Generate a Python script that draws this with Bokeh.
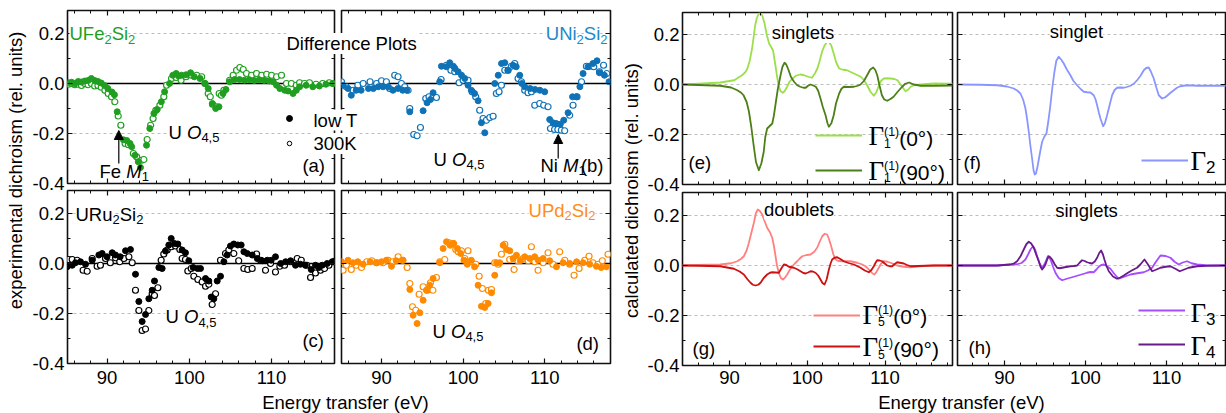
from bokeh.plotting import figure
from bokeh.models import (Range1d, LinearAxis, FixedTicker, Span, Label, Legend, LegendItem,
                          Arrow, NormalHead, PrintfTickFormatter, CustomJSTickFormatter)
from bokeh.layouts import row, column
from bokeh.embed import file_html
from bokeh.resources import INLINE
from bokeh.core.properties import value

# ---------------- tick values ----------------
X_MAJOR = [90, 100, 110]
X_MINOR = [84, 86, 88, 92, 94, 96, 98, 102, 104, 106, 108, 112, 114, 116, 118]
Y_MAJOR = [-0.4, -0.2, 0.0, 0.2]
Y_MINOR = [-0.3, -0.1, 0.1]

# ---------------- experimental data (energy eV, dichroism) ----------------
A_LOW = [(85.3,0.003),(85.7,0.005),(86.1,0.0),(86.5,0.008),(86.9,0.006),(87.3,0.01),(87.7,0.012),(88.1,0.02),(88.5,0.012),(88.9,0.008),(89.3,0.002),(89.7,-0.008),(90.1,-0.02),(90.6,-0.034),(90.9,-0.045),(91.24,-0.113),(92.0,-0.225),(92.4,-0.228),(92.8,-0.24),(93.0,-0.253),(93.4,-0.287),(93.8,-0.313),(94.07,-0.336),(94.8,-0.247),(95.2,-0.18),(95.7,-0.12),(96.1,-0.104),(96.6,-0.073),(97.0,-0.033),(97.6,0.0),(98.0,0.033),(98.4,0.04),(98.7,0.03),(99.05,0.033),(99.6,0.035),(100.15,0.043),(100.6,0.027),(101.3,0.02),(101.9,0.0),(102.3,-0.02),(102.8,-0.08),(103.2,-0.1),(103.6,-0.093),(104.1,-0.04),(104.45,-0.024),(104.9,0.007),(105.5,0.016),(106.1,0.016),(106.7,0.013),(107.3,0.015),(107.9,0.012),(108.5,0.015),(109.1,0.012),(109.7,0.01),(110.2,0.007),(110.6,-0.007),(111.0,-0.02),(111.6,-0.027),(112.0,-0.03),(112.6,-0.04),(113.0,-0.027),(113.4,-0.013),(114.2,-0.007),(115.0,-0.013),(115.8,-0.01),(116.6,-0.003),(117.4,0.0)]
A_RT = [(85.3,-0.003),(85.7,0.0),(86.1,-0.005),(86.5,-0.003),(86.9,-0.008),(87.3,0.0),(87.7,-0.005),(88.1,0.0),(88.5,-0.01),(88.9,-0.008),(89.3,-0.015),(89.74,-0.027),(90.14,-0.04),(90.55,-0.053),(90.95,-0.073),(91.36,-0.13),(91.68,-0.167),(92.2,-0.24),(92.6,-0.245),(93.2,-0.28),(93.6,-0.293),(94.2,-0.307),(94.48,-0.304),(94.88,-0.224),(95.3,-0.167),(95.6,-0.14),(95.93,-0.107),(96.42,-0.087),(96.9,-0.053),(97.23,-0.007),(97.84,0.02),(98.4,0.024),(99.0,0.013),(99.6,0.027),(100.27,0.033),(100.9,0.033),(101.5,0.027),(101.9,0.0),(102.3,-0.04),(102.55,-0.053),(102.82,-0.083),(103.3,-0.093),(103.63,-0.04),(103.9,-0.047),(104.2,-0.027),(104.9,0.013),(105.33,0.033),(105.74,0.053),(106.14,0.064),(106.55,0.056),(106.95,0.04),(107.56,0.033),(108.17,0.04),(108.8,0.033),(109.4,0.037),(110.0,0.033),(110.6,0.027),(111.2,0.033),(111.8,0.0),(112.4,0.0),(113.0,-0.007),(113.4,0.003),(114.0,0.0),(114.6,0.003),(115.4,-0.003),(116.2,0.0),(117.0,0.003),(117.5,0.0)]

B_LOW = [(85.3,-0.007),(85.9,-0.02),(86.3,-0.047),(86.9,-0.027),(87.5,-0.027),(88.4,-0.02),(89.0,-0.02),(89.6,-0.013),(90.2,-0.013),(90.8,-0.013),(91.4,-0.027),(92.0,-0.02),(92.6,-0.027),(93.1,-0.027),(93.46,-0.113),(95.1,-0.109),(95.58,-0.077),(96.0,-0.064),(96.32,-0.037),(97.13,0.007),(97.34,0.069),(97.95,0.067),(98.36,0.083),(98.8,0.069),(99.0,0.06),(99.38,0.047),(99.8,0.033),(100.2,0.02),(100.6,-0.007),(101.0,-0.027),(101.4,-0.04),(101.83,-0.069),(102.24,-0.157),(102.65,-0.197),(103.87,0.0),(104.3,0.033),(104.7,0.08),(105.1,0.083),(105.5,0.053),(106.1,0.073),(106.5,0.067),(106.93,0.033),(107.2,0.0),(107.54,-0.013),(108.2,-0.02),(108.8,-0.024),(109.4,-0.027),(109.99,-0.033),(110.6,-0.144),(111.0,-0.157),(111.4,-0.16),(111.9,-0.163),(112.32,-0.147),(112.85,-0.117),(113.4,-0.053),(113.87,-0.053),(114.3,-0.013),(114.69,0.04),(115.3,0.067),(115.9,0.08),(116.4,0.091),(116.7,0.043),(117.3,0.033),(117.87,0.007)]
B_RT = [(85.1,0.007),(85.7,-0.013),(86.5,-0.027),(87.1,-0.007),(87.75,0.0),(88.6,0.007),(89.4,0.0),(90.0,0.011),(90.6,0.007),(91.0,-0.02),(91.62,0.033),(92.03,0.027),(92.44,0.0),(92.85,-0.013),(93.26,-0.027),(93.46,-0.1),(93.95,-0.204),(94.36,-0.209),(94.77,-0.176),(95.42,-0.06),(95.82,-0.053),(96.32,-0.051),(96.73,-0.056),(97.3,0.016),(97.95,0.073),(98.5,0.053),(98.97,0.047),(99.5,0.003),(100.0,0.013),(100.6,0.013),(101.1,-0.033),(101.54,-0.053),(102.03,-0.107),(102.44,-0.14),(102.85,-0.147),(103.26,-0.136),(103.67,-0.131),(104.07,-0.04),(104.4,-0.033),(104.69,-0.007),(105.1,0.053),(105.5,0.053),(105.9,0.069),(106.32,0.08),(106.73,0.02),(107.14,0.007),(107.54,-0.027),(107.95,-0.037),(108.36,-0.033),(108.77,-0.087),(109.38,-0.08),(109.87,-0.087),(110.4,-0.093),(110.7,-0.18),(111.2,-0.184),(111.6,-0.184),(112.03,-0.187),(112.44,-0.189),(113.05,-0.127),(113.46,-0.087),(113.95,-0.053),(114.5,0.007),(115.1,0.069),(115.5,0.069),(116.0,0.067),(116.7,0.047),(117.2,0.073),(117.6,0.04)]

C_LOW = [(85.16,-0.013),(85.77,-0.007),(86.17,0.003),(86.78,0.007),(87.39,-0.003),(88.2,0.013),(89.01,0.034),(89.41,0.04),(90.0,0.027),(90.63,0.043),(91.03,0.034),(91.6,0.027),(92.25,0.051),(92.85,0.056),(93.46,-0.043),(93.87,-0.152),(94.27,-0.232),(94.68,-0.204),(95.08,-0.141),(95.49,-0.107),(95.77,-0.07),(96.3,-0.016),(96.7,-0.02),(97.1,0.05),(97.51,0.074),(97.8,0.1),(98.2,0.08),(98.61,0.078),(99.13,0.054),(99.53,0.043),(99.94,0.011),(100.47,-0.016),(101.0,-0.02),(101.36,-0.02),(101.97,-0.06),(102.37,-0.07),(102.66,-0.134),(102.98,-0.141),(103.39,-0.07),(103.79,-0.051),(104.2,0.007),(104.6,0.034),(105.0,0.07),(105.41,0.078),(105.9,0.074),(106.3,0.074),(106.63,0.047),(107.04,0.04),(107.64,0.034),(108.25,0.02),(108.86,0.011),(109.47,0.013),(109.95,0.013),(110.47,0.027),(111.1,0.0),(111.7,0.007),(112.3,0.011),(112.9,-0.007),(113.5,-0.003),(114.1,-0.007),(114.81,-0.024),(115.33,-0.007),(115.74,-0.016),(116.15,-0.007),(116.75,0.0),(117.36,0.007),(117.77,0.011)]
C_RT = [(85.36,0.016),(85.77,0.016),(86.38,0.013),(87.1,-0.027),(87.59,-0.031),(88.2,0.02),(88.8,-0.011),(89.2,-0.007),(89.82,0.02),(90.4,0.003),(91.03,0.023),(91.55,0.007),(92.05,0.02),(92.66,0.027),(93.06,0.003),(93.46,-0.107),(93.87,-0.188),(94.27,-0.268),(94.68,-0.262),(95.08,-0.188),(95.49,-0.121),(95.77,-0.128),(96.18,-0.097),(96.58,0.013),(96.9,0.038),(97.31,0.054),(97.8,0.067),(98.32,0.07),(98.85,0.056),(99.13,0.02),(99.53,0.016),(99.82,-0.03),(100.23,-0.02),(100.55,-0.051),(101.04,-0.064),(101.56,-0.074),(101.97,-0.091),(102.37,-0.083),(102.78,-0.164),(103.19,-0.121),(103.79,0.013),(104.4,0.04),(104.8,0.054),(105.41,0.04),(106.0,0.011),(106.63,-0.02),(107.1,-0.024),(107.64,-0.02),(108.17,0.038),(108.66,0.013),(109.26,-0.027),(109.87,0.0),(110.47,-0.034),(111.0,-0.011),(111.57,-0.007),(112.3,0.007),(113.11,0.02),(113.6,0.013),(114.26,-0.007),(114.73,-0.056),(115.33,-0.038),(115.94,-0.027),(116.43,-0.02),(116.96,-0.007),(117.56,0.007)]

D_LOW = [(85.1,0.007),(85.9,0.013),(86.5,0.003),(87.1,0.007),(87.75,-0.003),(88.6,0.007),(89.4,0.003),(90.0,0.007),(90.6,0.013),(91.22,-0.011),(91.8,0.011),(92.65,0.013),(93.47,-0.104),(93.87,-0.207),(94.36,-0.24),(94.69,-0.197),(95.1,-0.147),(95.5,-0.107),(95.9,-0.087),(96.32,-0.06),(97.14,0.003),(97.55,0.06),(97.96,0.087),(98.4,0.073),(98.85,0.08),(99.3,0.06),(99.7,0.04),(100.1,0.013),(100.5,-0.003),(101.0,0.013),(101.4,-0.013),(101.83,-0.087),(102.24,-0.171),(102.65,-0.176),(103.06,-0.16),(103.47,-0.117),(103.87,-0.047),(104.1,0.003),(104.49,0.003),(104.9,0.073),(105.3,0.056),(105.71,0.051),(106.12,0.02),(106.53,0.033),(107.0,0.011),(107.55,0.027),(108.16,0.02),(108.77,0.027),(109.2,0.013),(109.8,0.02),(110.6,0.011),(111.43,-0.013),(112.24,0.003),(113.06,0.0),(113.9,0.007),(114.7,0.003),(115.5,-0.003),(116.32,-0.011),(116.9,-0.016),(117.55,-0.013)]
D_RT = [(85.3,-0.027),(85.7,-0.007),(86.3,-0.024),(86.9,-0.007),(87.55,-0.016),(88.2,0.007),(88.8,0.011),(89.4,0.003),(90.2,0.003),(90.8,0.013),(91.4,0.007),(92.04,0.027),(92.57,0.013),(93.14,-0.016),(93.47,-0.08),(93.8,-0.173),(94.2,-0.187),(94.61,-0.123),(95.1,-0.093),(95.59,-0.107),(96.0,-0.077),(96.3,-0.107),(96.73,-0.056),(97.14,0.007),(97.75,0.016),(98.28,0.083),(98.77,0.08),(99.1,0.056),(99.4,0.047),(99.8,0.051),(100.2,0.02),(100.6,0.051),(101.0,0.007),(101.55,-0.003),(101.96,-0.051),(102.36,-0.1),(102.77,-0.16),(103.1,-0.107),(103.47,-0.104),(103.87,0.003),(104.3,-0.003),(104.69,0.037),(105.1,0.077),(105.7,0.016),(106.24,-0.024),(106.7,0.011),(107.34,0.02),(107.96,0.011),(108.36,0.067),(108.77,0.007),(109.18,-0.027),(109.8,0.003),(110.4,0.043),(111.0,-0.003),(111.83,0.047),(112.45,0.013),(113.06,-0.003),(113.59,-0.047),(114.2,-0.02),(114.9,0.013),(115.42,0.029),(115.9,0.003),(116.52,-0.003),(117.05,0.011),(117.75,0.037)]

# ---------------- calculated curves ----------------
E_G1_0 = [(83.9,0.0),(86.0,0.003),(88.8,0.008),(90.6,0.017),(91.6,0.037),(92.0,0.048),(92.3,0.064),(92.6,0.095),(92.9,0.144),(93.1,0.19),(93.3,0.237),(93.5,0.265),(93.77,0.284),(94.0,0.284),(94.2,0.277),(94.5,0.245),(94.8,0.197),(95.1,0.163),(95.4,0.148),(95.6,0.135),(95.9,0.077),(96.1,0.035),(96.3,-0.003),(96.55,-0.026),(96.86,-0.033),(97.1,-0.026),(97.4,-0.009),(97.7,0.01),(98.1,0.024),(98.6,0.036),(99.1,0.04),(99.5,0.038),(99.8,0.035),(100.2,0.03),(100.6,0.027),(101.0,0.045),(101.3,0.064),(101.6,0.095),(101.9,0.131),(102.2,0.155),(102.5,0.168),(102.78,0.171),(103.1,0.155),(103.4,0.124),(103.7,0.09),(104.1,0.064),(104.6,0.059),(105.1,0.057),(106.0,0.044),(106.9,0.031),(107.3,0.017),(107.7,-0.003),(108.1,-0.028),(108.56,-0.045),(108.9,-0.03),(109.2,-0.005),(109.5,0.015),(109.85,0.024),(110.3,0.025),(110.7,0.024),(111.2,0.022),(111.6,0.017),(112.0,0.0),(112.2,-0.009),(112.64,-0.027),(113.0,-0.02),(113.3,-0.009),(113.8,-0.002),(114.6,0.0),(116.3,0.004),(118.7,0.003)]
E_G1_90 = [(83.9,0.0),(86.0,-0.002),(88.8,-0.005),(90.2,-0.012),(91.0,-0.023),(91.5,-0.033),(91.8,-0.043),(92.2,-0.07),(92.5,-0.109),(92.8,-0.17),(93.1,-0.243),(93.4,-0.31),(93.77,-0.343),(94.1,-0.315),(94.4,-0.269),(94.6,-0.21),(94.84,-0.176),(95.2,-0.165),(95.5,-0.156),(95.7,-0.125),(95.9,-0.083),(96.2,-0.02),(96.56,0.037),(96.8,0.07),(97.07,0.087),(97.3,0.08),(97.6,0.057),(97.9,0.03),(98.3,0.011),(98.7,-0.003),(99.1,-0.009),(99.5,-0.013),(99.8,-0.013),(100.1,-0.005),(100.4,0.0),(100.7,-0.003),(101.1,-0.009),(101.4,-0.025),(101.7,-0.056),(102.0,-0.09),(102.35,-0.123),(102.6,-0.155),(102.78,-0.169),(103.1,-0.155),(103.4,-0.123),(103.7,-0.075),(104.1,-0.036),(104.4,-0.017),(104.7,-0.009),(105.3,-0.01),(106.0,-0.009),(106.5,-0.005),(106.85,0.0),(107.3,0.015),(107.7,0.037),(108.1,0.06),(108.48,0.068),(108.75,0.058),(109.0,0.037),(109.3,-0.005),(109.6,-0.043),(109.9,-0.06),(110.28,-0.065),(110.7,-0.058),(111.1,-0.049),(111.6,-0.03),(112.2,-0.009),(112.6,0.003),(113.1,0.008),(113.4,0.004),(113.7,0.0),(114.6,-0.005),(116.3,-0.005),(118.7,-0.004)]
F_G2 = [(84.2,0.0),(87.0,-0.001),(89.1,-0.003),(90.3,-0.008),(91.15,-0.016),(91.6,-0.025),(91.97,-0.036),(92.3,-0.06),(92.59,-0.096),(92.8,-0.14),(93.0,-0.189),(93.2,-0.245),(93.41,-0.296),(93.6,-0.345),(93.74,-0.36),(93.9,-0.355),(94.11,-0.323),(94.4,-0.27),(94.65,-0.229),(94.9,-0.21),(95.18,-0.196),(95.4,-0.15),(95.67,-0.083),(95.9,-0.015),(96.17,0.051),(96.4,0.095),(96.7,0.111),(97.0,0.1),(97.32,0.084),(97.7,0.06),(98.14,0.037),(98.5,0.015),(98.97,-0.003),(99.4,-0.018),(99.79,-0.029),(100.2,-0.031),(100.61,-0.032),(101.02,-0.043),(101.25,-0.06),(101.44,-0.083),(101.65,-0.112),(101.85,-0.136),(102.18,-0.167),(102.4,-0.155),(102.67,-0.123),(103.0,-0.08),(103.29,-0.043),(103.6,-0.022),(103.91,-0.013),(104.3,-0.012),(104.73,-0.013),(105.1,-0.01),(105.55,-0.005),(106.0,0.004),(106.37,0.017),(106.8,0.035),(107.2,0.057),(107.5,0.066),(107.81,0.068),(108.1,0.05),(108.43,0.024),(108.75,-0.012),(109.05,-0.043),(109.46,-0.056),(109.8,-0.052),(110.08,-0.045),(110.5,-0.033),(110.9,-0.023),(111.3,-0.013),(111.72,-0.007),(112.55,-0.003),(113.78,-0.005),(117.4,-0.005)]
G_G5_0 = [(83.9,0.0),(86.0,0.002),(88.8,0.004),(90.2,0.009),(91.0,0.017),(91.5,0.027),(91.84,0.037),(92.2,0.06),(92.49,0.091),(92.8,0.13),(93.13,0.171),(93.4,0.21),(93.64,0.224),(93.9,0.218),(94.2,0.204),(94.5,0.178),(94.84,0.151),(95.2,0.133),(95.49,0.111),(95.7,0.08),(95.92,0.037),(96.1,0.0),(96.34,-0.029),(96.6,-0.05),(96.86,-0.056),(97.1,-0.05),(97.42,-0.036),(97.7,-0.02),(98.06,-0.003),(98.4,0.008),(98.7,0.017),(99.0,0.027),(99.35,0.037),(99.9,0.042),(100.42,0.044),(100.9,0.055),(101.27,0.071),(101.6,0.095),(101.92,0.117),(102.25,0.127),(102.56,0.124),(102.8,0.105),(103.08,0.077),(103.35,0.045),(103.63,0.024),(104.0,0.018),(104.49,0.017),(105.56,0.017),(106.42,0.011),(107.0,0.005),(107.49,-0.003),(107.8,-0.012),(108.13,-0.023),(108.4,-0.032),(108.65,-0.036),(108.9,-0.025),(109.2,-0.009),(109.5,0.008),(109.85,0.017),(110.3,0.015),(110.71,0.011),(111.56,0.0),(112.42,-0.005),(113.28,-0.007),(114.5,-0.003),(116.3,0.0),(118.7,0.0)]
G_G5_90 = [(83.9,0.0),(86.0,-0.001),(88.8,-0.003),(90.56,-0.013),(91.3,-0.024),(91.84,-0.036),(92.3,-0.055),(92.7,-0.069),(93.0,-0.077),(93.34,-0.08),(93.7,-0.077),(93.99,-0.069),(94.4,-0.05),(94.84,-0.036),(95.2,-0.029),(95.49,-0.027),(95.9,-0.028),(96.34,-0.029),(96.7,-0.01),(96.99,0.004),(97.3,0.002),(97.63,-0.005),(98.27,-0.009),(98.7,-0.015),(99.13,-0.023),(99.5,-0.03),(99.77,-0.032),(100.1,-0.028),(100.42,-0.023),(100.7,-0.024),(101.06,-0.029),(101.4,-0.04),(101.7,-0.056),(101.95,-0.07),(102.22,-0.076),(102.5,-0.055),(102.78,-0.016),(103.0,0.008),(103.2,0.024),(103.5,0.031),(103.85,0.033),(104.3,0.025),(104.7,0.017),(105.3,0.01),(105.99,0.004),(106.4,-0.002),(106.85,-0.009),(107.4,-0.02),(107.92,-0.027),(108.25,-0.018),(108.56,-0.003),(108.8,0.012),(108.99,0.021),(109.3,0.02),(109.63,0.017),(109.95,0.008),(110.28,0.0),(110.6,-0.003),(110.92,-0.003),(111.25,0.006),(111.56,0.013),(111.9,0.011),(112.42,0.008),(112.85,0.002),(113.28,-0.003),(114.2,-0.002),(116.3,0.0),(118.7,0.0)]
H_G3 = [(84.2,0.0),(89.09,0.0),(90.33,0.003),(91.56,0.005),(92.1,0.01),(92.59,0.024),(92.9,0.043),(93.21,0.064),(93.53,0.077),(93.8,0.062),(94.03,0.037),(94.35,0.008),(94.65,-0.009),(94.85,0.0),(95.06,0.013),(95.35,0.037),(95.55,0.032),(95.76,0.017),(96.0,-0.005),(96.29,-0.029),(96.7,-0.05),(97.12,-0.059),(97.8,-0.052),(98.56,-0.045),(99.4,-0.037),(100.2,-0.029),(100.6,-0.026),(101.02,-0.027),(101.35,-0.016),(101.64,-0.005),(101.95,0.002),(102.26,0.004),(102.65,-0.003),(103.08,-0.013),(103.6,-0.035),(104.11,-0.053),(104.8,-0.045),(105.55,-0.036),(106.4,-0.031),(107.2,-0.027),(107.7,-0.02),(108.23,-0.009),(108.7,0.015),(109.26,0.04),(109.9,0.038),(110.49,0.031),(111.0,0.015),(111.52,0.004),(112.0,0.012),(112.55,0.017),(113.1,0.009),(113.78,0.004),(114.8,0.001),(117.4,0.0)]
H_G4 = [(84.2,0.0),(89.09,0.0),(90.74,0.004),(91.2,0.009),(91.56,0.017),(92.0,0.038),(92.38,0.064),(92.7,0.085),(93.0,0.095),(93.3,0.088),(93.62,0.071),(93.9,0.045),(94.23,0.017),(94.45,-0.005),(94.65,-0.016),(94.85,-0.008),(95.06,0.004),(95.3,0.026),(95.47,0.037),(95.65,0.033),(95.88,0.024),(96.2,0.005),(96.5,-0.009),(96.8,-0.011),(97.12,-0.009),(97.6,-0.006),(98.14,-0.003),(98.6,-0.002),(98.97,0.0),(99.3,0.012),(99.58,0.021),(99.9,0.018),(100.2,0.013),(100.5,0.01),(100.82,0.008),(101.15,0.016),(101.44,0.031),(101.7,0.05),(101.93,0.06),(102.15,0.045),(102.34,0.024),(102.6,-0.002),(102.88,-0.023),(103.4,-0.044),(103.9,-0.053),(104.3,-0.048),(104.73,-0.04),(105.1,-0.032),(105.55,-0.023),(106.0,-0.015),(106.37,-0.009),(106.8,0.005),(107.28,0.024),(107.7,0.005),(108.23,-0.023),(108.7,-0.017),(109.26,-0.009),(109.9,-0.005),(110.49,-0.003),(111.1,-0.013),(111.64,-0.023),(112.2,-0.016),(112.75,-0.009),(113.78,-0.003),(115.0,-0.001),(117.4,0.0)]

# ---------------- styles ----------------
SANS = "Liberation Sans"
SERIF = "Liberation Serif"
FS = 18.5
GREEN, BLUE, BLACK, ORANGE = "#1f9e1f", "#0f72b6", "#000000", "#ff8a00"
C_G1_0, C_G1_90, C_G2 = "#9be04a", "#4d7f17", "#8a96ff"
C_G5_0, C_G5_90, C_G3, C_G4 = "#ff8080", "#cc1111", "#a64dff", "#6a1b8a"

AW = {' ': 278, '(': 333, ')': 333, ',': 278, '.': 278, '-': 333, '°': 400,
      'U': 722, 'F': 611, 'e': 556, 'S': 667, 'i': 222, 'N': 722, 'R': 722, 'u': 556,
      'P': 667, 'd': 556, 'O': 778, 'M': 833, 'T': 611, 'K': 667, 'l': 222, 'o': 556,
      'w': 722, 'D': 722, 'f': 278, 'r': 333, 'n': 556, 'c': 500, 't': 278, 's': 500,
      'g': 556, 'b': 556, 'a': 556, 'h': 556, 'y': 500, 'E': 667, 'V': 667}
MID = {SANS: 0.3465, SERIF: 0.3375}   # box middle above the baseline, in em


def tw(t, size, font):
    if font == SERIF:
        return sum(578 if c == "Γ" else 500 for c in t) * size / 1000.0
    return sum(AW.get(c, 556) for c in t) * size / 1000.0


def N(t, size=FS):
    return [(t, SANS, size, "normal", 0)]


def I(t):
    return [(t, SANS, FS, "italic", 0)]


def SB(t):
    return [(t, SANS, 13, "normal", -4)]


def GAM():
    return [("Γ", SERIF, 27, "normal", 0)]


def STK(sup, sub):
    return [(sup, SANS, 12.3, "normal", 9.5), (sub, SANS, 12.3, "normal", -2)]


def LSB(t):
    return [(t, SANS, 17, "normal", -2.5)]


def LT(t):
    return [(t, SANS, 21, "normal", 0)]


class Panel:
    def __init__(self, L, T, W, H, xr, yr, mb, show_x, show_y, zero_solid, x_standoff=7):
        self.L, self.T, self.W, self.H, self.xr, self.yr = L, T, W, H, xr, yr
        p = figure(title=None, frame_width=W, frame_height=H,
                   x_range=Range1d(*xr), y_range=Range1d(*yr),
                   output_backend="svg", toolbar_location=None,
                   x_axis_location=None, y_axis_location=None,
                   min_border_left=mb[0], min_border_right=mb[1],
                   min_border_top=mb[2], min_border_bottom=mb[3])
        p.grid.visible = False
        p.outline_line_color = "#111111"
        p.outline_line_width = 1.6
        p.background_fill_color = "white"
        p.border_fill_color = None
        for side in ("below", "above", "left", "right"):
            if side in ("below", "above"):
                ax = LinearAxis(ticker=FixedTicker(ticks=X_MAJOR, minor_ticks=X_MINOR))
                show = show_x and side == "below"
            else:
                ax = LinearAxis(ticker=FixedTicker(ticks=Y_MAJOR, minor_ticks=Y_MINOR))
                show = show_y and side == "left"
            ax.axis_line_color = None
            ax.major_tick_in, ax.major_tick_out = 5, 0
            ax.minor_tick_in, ax.minor_tick_out = 3, 0
            ax.major_tick_line_color = "#111111"
            ax.minor_tick_line_color = "#111111"
            ax.major_tick_line_width = 1.2
            ax.minor_tick_line_width = 1
            if show:
                ax.major_label_text_font = SANS
                ax.major_label_text_font_size = f"{FS}px"
                ax.major_label_text_color = "black"
                ax.major_label_standoff = x_standoff if side == "below" else 3
                if side == "left":
                    ax.formatter = PrintfTickFormatter(format="%.1f")
            else:
                ax.formatter = CustomJSTickFormatter(code="return ''")
                ax.major_label_standoff = 0
                ax.major_label_text_font_size = "1px"
            p.add_layout(ax, side)
        grid_vals = [0.2, -0.2] if zero_solid else [0.2, 0.0, -0.2]
        for v in grid_vals:
            p.add_layout(Span(location=v, dimension="width", line_color="#bdbdbd",
                              line_width=1, line_dash="3 3", level="underlay"))
        if zero_solid:
            p.add_layout(Span(location=0.0, dimension="width", line_color="black",
                              line_width=1.6, level="underlay"))
        self.p = p

    def dx(self, px):
        return self.xr[0] + (px - self.L) / self.W * (self.xr[1] - self.xr[0])

    def dy(self, py):
        return self.yr[1] - (py - self.T) / self.H * (self.yr[1] - self.yr[0])


class Overlay(Panel):
    """Transparent figure laid over (a) and (b) for the texts that cross both panels."""
    def __init__(self, L, T, W, H):
        self.L, self.T, self.W, self.H = L, T, W, H
        self.xr, self.yr = (0, W), (0, H)
        p = figure(title=None, frame_width=W, frame_height=H, x_range=Range1d(0, W),
                   y_range=Range1d(0, H), output_backend="svg", toolbar_location=None,
                   x_axis_location=None, y_axis_location=None, min_border=0)
        p.grid.visible = False
        p.outline_line_color = None
        p.background_fill_color = None
        p.border_fill_color = None
        self.p = p


def rich(pn, px, py, segs, align="left", color="black", bg=None):
    """Text made of pieces; (px, py) is the left/centre/right end at the baseline."""
    ws = [max(tw(t, s, f) for (t, f, s, st, yo) in seg) for seg in segs]
    total = sum(ws)
    x0 = px if align == "left" else (px - total if align == "right" else px - total / 2.0)
    xd, yd = pn.dx(x0), pn.dy(py)
    off = 0.0
    for seg, w in zip(segs, ws):
        for (t, f, s, st, yo) in seg:
            lab = Label(x=xd, y=yd, x_offset=off, y_offset=yo + MID[f] * s, text=t,
                        text_font=f, text_font_size=f"{s}px", text_font_style=st,
                        text_color=color, text_align="left", text_baseline="middle")
            if bg:
                lab.background_fill_color = bg
            pn.p.add_layout(lab)
        off += w


def arrow(pn, px, py_tail, py_tip):
    pn.p.add_layout(Arrow(x_start=pn.dx(px), y_start=pn.dy(py_tail),
                          x_end=pn.dx(px), y_end=pn.dy(py_tip),
                          line_color="black", line_width=1.2,
                          end=NormalHead(size=9, fill_color="black", line_color="black",
                                         line_width=1)))


def key(pn, renderer, cx, cy, gw, gh=10):
    lg = Legend(items=[LegendItem(label=value(" "), renderers=[renderer])],
                location=(cx - gw / 2.0 - pn.L, (pn.T + pn.H) - cy - gh / 2.0),
                glyph_width=gw, glyph_height=gh, label_height=gh, label_width=0,
                label_standoff=0, label_text_font_size="1px", padding=0, margin=0,
                spacing=0, border_line_color=None, background_fill_alpha=0)
    pn.p.add_layout(lg)


def xs(pairs):
    return [a for a, b in pairs]


def ys(pairs):
    return [b for a, b in pairs]


def scatter_pair(pn, low, rt, color):
    pn.p.scatter(xs(rt), ys(rt), marker="circle", size=6, fill_color="white",
                 line_color=color, line_width=1.2)
    pn.p.scatter(xs(low), ys(low), marker="circle", size=6, fill_color=color,
                 line_color=color, line_width=1)


def text_fig(w, h, cx, cy, text, angle):
    f = figure(title=None, frame_width=w, frame_height=h, x_range=Range1d(0, w),
               y_range=Range1d(0, h), output_backend="svg", toolbar_location=None,
               x_axis_location=None, y_axis_location=None, min_border=0)
    f.grid.visible = False
    f.outline_line_color = None
    f.background_fill_color = None
    f.border_fill_color = None
    f.add_layout(Label(x=cx, y=h - cy, text=text, angle=angle, text_align="center",
                       text_baseline="middle", text_font=SANS, text_font_size=f"{FS}px",
                       text_color="black"))
    return f


# ---------------- panels ----------------
YR = (-0.4, 0.292)
pa = Panel(67, 10, 267, 173, (85.2, 117.64), YR, (39, 3, 10, 11), False, True, True)
pb = Panel(341, 10, 269, 173, (85.1, 118.05), YR, (4, 3, 10, 11), False, False, True)
ov = Overlay(280, 0, 145, 186)
ov.p.margin = (0, 188, 0, -333)
pc = Panel(67, 190, 267, 173, (85.2, 117.64), YR, (39, 3, 4, 28), True, True, True, 7)
pd = Panel(341, 190, 269, 173, (85.1, 118.05), YR, (4, 3, 4, 28), True, False, True, 7)
pe = Panel(682, 12, 270, 172, (83.95, 118.68), (-0.4, 0.288), (39, 2, 12, 11), False, True, False)
pf = Panel(957, 12, 268, 172, (84.2, 117.29), (-0.4, 0.288), (3, 1, 12, 11), False, False, False)
pg = Panel(682, 192, 270, 173, (83.95, 118.68), YR, (39, 2, 5, 26), True, True, False, 5)
ph = Panel(957, 192, 268, 173, (84.2, 117.29), YR, (3, 1, 5, 26), True, False, False, 5)

# experimental
scatter_pair(pa, A_LOW, A_RT, GREEN)
scatter_pair(pb, B_LOW, B_RT, BLUE)
scatter_pair(pc, C_LOW, C_RT, BLACK)
scatter_pair(pd, D_LOW, D_RT, ORANGE)

# calculated
r_e0 = pe.p.line(xs(E_G1_0), ys(E_G1_0), line_color=C_G1_0, line_width=1.8, line_join="round")
r_e90 = pe.p.line(xs(E_G1_90), ys(E_G1_90), line_color=C_G1_90, line_width=1.8, line_join="round")
r_f = pf.p.line(xs(F_G2), ys(F_G2), line_color=C_G2, line_width=1.8, line_join="round")
r_g0 = pg.p.line(xs(G_G5_0), ys(G_G5_0), line_color=C_G5_0, line_width=1.8, line_join="round")
r_g90 = pg.p.line(xs(G_G5_90), ys(G_G5_90), line_color=C_G5_90, line_width=1.8, line_join="round")
r_h3 = ph.p.line(xs(H_G3), ys(H_G3), line_color=C_G3, line_width=1.8, line_join="round")
r_h4 = ph.p.line(xs(H_G4), ys(H_G4), line_color=C_G4, line_width=1.8, line_join="round")

# ---------------- annotations: left group ----------------
rich(pa, 69, 39.5, [N("UFe"), SB("2"), N("Si"), SB("2")], color="#1ea01e", bg="white")
rich(pa, 168, 138, [N("U "), I("O"), SB("4,5")], bg="white")
rich(pa, 99, 177, [N("Fe "), I("M"), SB("1")])
arrow(pa, 118.3, 163, 130)
rich(pa, 324.5, 171, [N("(a)")], align="right")

# legend symbols of the "low T" / "300K" entries, in the overlay's pixel space
ov.p.scatter([ov.dx(289)], [ov.dy(108)], marker="circle", size=6, fill_color="black",
             line_color="black")
ov.p.scatter([ov.dx(289)], [ov.dy(133)], marker="circle", size=4.5, fill_color="white",
             line_color="black", line_width=1)
rich(ov, 286, 39.5, [N("Difference Plots")], bg="white")
rich(ov, 313, 116, [N("low T")], bg="white")
rich(ov, 313, 139.5, [N("300K")], bg="white")

rich(pb, 607, 39.5, [N("UNi"), SB("2"), N("Si"), SB("2")], align="right", color="#2288cc", bg="white")
rich(pb, 433, 165, [N("U "), I("O"), SB("4,5")])
rich(pb, 540, 171, [N("Ni "), I("M"), SB("1")])
arrow(pb, 557.7, 158, 134)
rich(pb, 603, 171, [N("(b)")], align="right")

rich(pc, 75, 220, [N("URu"), SB("2"), N("Si"), SB("2")], bg="white")
rich(pc, 165, 322.5, [N("U "), I("O"), SB("4,5")], bg="white")
rich(pc, 323.5, 346, [N("(c)")], align="right")

rich(pd, 595, 216, [N("UPd"), SB("2"), N("Si"), SB("2")], align="right", color="#ff8c1a", bg="white")
rich(pd, 432, 337, [N("U "), I("O"), SB("4,5")])
rich(pd, 598.5, 349, [N("(d)")], align="right")

# ---------------- annotations: right group ----------------
rich(pe, 802.5, 38.5, [N("singlets")], align="center", bg="white")
rich(pe, 688, 168, [N("(e)")])
key(pe, r_e0, 838.5, 135, 47)
key(pe, r_e90, 838.5, 170, 47)
rich(pe, 868, 145, [GAM(), STK("(1)", "1"), LT("(0°)")])
rich(pe, 868, 179.5, [GAM(), STK("(1)", "1"), LT("(90°)")])

rich(pf, 1076, 37.5, [N("singlet")], align="center", bg="white")
rich(pf, 963, 168, [N("(f)")])
key(pf, r_f, 1164.5, 160, 47)
rich(pf, 1190, 170, [GAM(), LSB("2")])

rich(pg, 798.5, 215, [N("doublets")], align="center", bg="white")
rich(pg, 692, 354, [N("(g)")])
key(pg, r_g0, 836, 315, 47)
key(pg, r_g90, 836, 346, 47)
rich(pg, 862, 323.3, [GAM(), STK("(1)", "5"), LT("(0°)")])
rich(pg, 862, 356, [GAM(), STK("(1)", "5"), LT("(90°)")])

rich(ph, 1086, 216, [N("singlets")], align="center", bg="white")
rich(ph, 968, 353, [N("(h)")])
key(ph, r_h3, 1161, 309.5, 47)
key(ph, r_h4, 1161, 344, 47)
rich(ph, 1190, 321.7, [GAM(), LSB("3")])
rich(ph, 1190, 355, [GAM(), LSB("4")])

# ---------------- axis titles ----------------
yl_left = text_fig(28, 413, 15, 170, "experimental dichroism (rel. units)", 1.5707963)
yl_right = text_fig(30, 413, 18, 190, "calculated dichroism (rel. units)", 1.5707963)
xl_left = text_fig(585, 22, 317, 11, "Energy transfer (eV)", 0)
xl_right = text_fig(583, 22, 318, 11, "Energy transfer (eV)", 0)

row_ab = row(pa.p, pb.p, ov.p)
row_cd = row(pc.p, pd.p)
row_cd.margin = (-8, 0, 0, 0)
row_ef = row(pe.p, pf.p)
row_gh = row(pg.p, ph.p)
row_gh.margin = (-8, 0, 0, 0)
left_group = column(row_ab, row_cd, xl_left)
right_group = column(row_ef, row_gh, xl_right)
layout = row(yl_left, left_group, yl_right, right_group)

open("out.html", "w").write(file_html(layout, INLINE))
